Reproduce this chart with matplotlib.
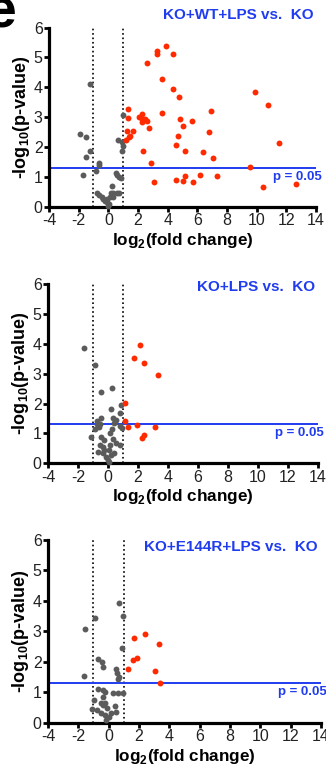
import matplotlib
matplotlib.use("Agg")
import matplotlib.pyplot as plt

plt.rcParams['font.family'] = ['Liberation Sans', 'DejaVu Sans']
plt.rcParams['mathtext.fontset'] = 'custom'
plt.rcParams['mathtext.rm'] = 'Liberation Sans'
plt.rcParams['mathtext.bf'] = 'Liberation Sans:bold'
plt.rcParams['axes.unicode_minus'] = False

# Panel 1: KO+WT+LPS vs. KO
wt_gray_x = [-1.26, -1.93, -1.48, -1.26, -1.48, -1.70, -0.62, -0.62, -0.80, 1.00, 0.68, 0.95,
             1.00, 0.93, 0.50, 0.59, 0.73, 0.84, 0.23, -0.78, -0.61, -0.44, -0.34, -0.11,
             0.07, 0.16, 0.34, 0.57, 0.74, 0.11, -0.07, 0.30, -0.20, 0.00]
wt_gray_y = [4.11, 2.45, 2.35, 1.88, 1.66, 1.06, 1.48, 1.41, 1.20, 3.07, 2.24, 2.18,
             2.02, 1.88, 1.12, 1.06, 1.00, 0.97, 0.69, 0.47, 0.39, 0.31, 0.25, 0.17,
             0.09, 0.45, 0.47, 0.45, 0.45, 0.34, 0.25, 0.31, 0.20, 0.03]
wt_red_x = [3.92, 3.27, 3.27, 4.35, 2.59, 3.61, 4.35, 4.78, 9.91, 10.78, 1.33, 6.89, 3.65, 2.30,
            1.33, 2.08, 2.25, 2.48, 2.25, 2.59, 4.84, 5.65, 5.05, 2.77, 6.82, 1.27, 1.67, 1.49,
            1.38, 1.20, 4.73, 4.53, 11.48, 2.37, 5.18, 6.37, 7.05, 2.91, 9.55, 6.15, 5.18, 7.34,
            4.53, 5.02, 3.09, 5.74, 10.40, 12.63]
wt_red_y = [5.40, 5.21, 5.12, 5.11, 4.80, 4.28, 3.96, 3.66, 3.83, 3.40, 3.27, 3.20, 3.13, 3.12,
            2.98, 2.99, 2.95, 2.93, 2.85, 2.86, 2.94, 2.88, 2.70, 2.64, 2.51, 2.55, 2.52, 2.38,
            2.35, 2.22, 2.37, 2.08, 2.15, 1.87, 1.88, 1.84, 1.62, 1.47, 1.34, 1.07, 1.04, 1.03,
            0.91, 0.86, 0.84, 0.84, 0.65, 0.77]

# Panel 2: KO+LPS vs. KO
lps_gray_x = [-1.59, -0.89, -0.46, 0.28, 0.21, 0.77, 0.89, 0.32, 0.55, -0.76, -0.46, -0.70, -0.58,
              -0.85, -1.14, 0.95, 0.77, 0.28, 0.14, -0.46, -0.24, 0.32, 0.55, 0.82, -0.52, 0.14,
              -0.69, -0.36, -0.13, 0.00, 0.21, 0.43, 0.10, -0.24, -0.55, 0.40, -0.30, 0.05]
lps_gray_y = [3.87, 3.29, 2.39, 2.51, 1.83, 1.69, 1.94, 1.51, 1.45, 1.43, 1.51, 1.33, 1.22,
              1.15, 0.89, 1.19, 1.25, 1.14, 1.00, 0.89, 0.78, 0.83, 0.67, 0.62, 0.62, 0.62,
              0.39, 0.33, 0.22, 0.11, 0.28, 0.33, 0.44, 0.44, 1.30, 1.35, 0.55, 0.05]
lps_red_x = [2.12, 1.76, 2.39, 3.31, 1.13, 1.13, 1.31, 1.96, 3.16, 2.37, 2.28]
lps_red_y = [3.97, 3.51, 3.35, 2.96, 2.02, 1.42, 1.22, 1.29, 1.20, 0.94, 0.85]

# Panel 3: KO+E144R+LPS vs. KO
e144_gray_x = [0.70, -0.90, 0.92, -1.58, 0.88, -0.70, -0.44, -0.40, -1.63, 0.51, 0.57, 0.66, 0.62,
               -0.70, -0.37, -0.26, 0.31, 0.62, 0.95, -0.97, -0.35, -0.22, -1.10, -0.75, -0.53,
               -0.40, -0.09, 0.40, 0.00, -0.15, 0.18, 0.51, -0.26, -0.48]
e144_gray_y = [3.94, 3.45, 3.50, 3.07, 2.45, 2.08, 2.00, 1.84, 1.54, 1.75, 1.64, 1.51, 1.45,
               1.11, 1.07, 1.02, 0.96, 0.99, 0.96, 0.74, 0.85, 0.64, 0.45, 0.42, 0.31,
               0.58, 0.47, 0.56, 0.20, 0.09, 0.31, 0.36, 0.25, 0.64]
e144_red_x = [2.42, 1.69, 3.34, 1.85, 1.58, 1.27, 3.08, 3.38]
e144_red_y = [2.90, 2.79, 2.58, 2.11, 2.06, 1.75, 1.70, 1.29]

titles = ["KO+WT+LPS vs.  KO", "KO+LPS vs.  KO", "KO+E144R+LPS vs.  KO"]
x_ticks = [-4, -2, 0, 2, 4, 6, 8, 10, 12, 14]
y_ticks = [0, 1, 2, 3, 4, 5, 6]
p_cut = 1.301

gray = "#5b5b5b"
red = "#ff2a00"
blue = "#1f3cf0"

fig = plt.figure(figsize=(3.26, 7.70), dpi=100)

panels = [
    (wt_gray_x, wt_gray_y, wt_red_x, wt_red_y),
    (lps_gray_x, lps_gray_y, lps_red_x, lps_red_y),
    (e144_gray_x, e144_gray_y, e144_red_x, e144_red_y),
]
boxes = [
    [0.1503, 0.7316, 0.819, 0.2325],
    [0.1472, 0.3983, 0.828, 0.2329],
    [0.1472, 0.0614, 0.837, 0.2373],
]
title_y = [1.071, 0.985, 0.963]

for i, (gx, gy, rx, ry) in enumerate(panels):
    ax = fig.add_axes(boxes[i])
    ax.plot([-1, -1], [0, 6], color="black", ls=":", lw=1.2, zorder=1)
    ax.plot([1, 1], [0, 6], color="black", ls=":", lw=1.2, zorder=1)
    ax.axhline(p_cut, color=blue, lw=1.4, zorder=2)
    ax.scatter(gx, gy, s=18, color=gray, zorder=3, clip_on=False, linewidths=0)
    ax.scatter(rx, ry, s=18, color=red, zorder=3, clip_on=False, linewidths=0)

    ax.set_xlim(-4, 14)
    ax.set_ylim(0, 6)
    ax.set_xticks(x_ticks)
    ax.set_yticks(y_ticks)
    for s in ["top", "right"]:
        ax.spines[s].set_visible(False)
    for s in ["left", "bottom"]:
        ax.spines[s].set_linewidth(2.3)
    ax.tick_params(width=2.0, length=3.5, labelsize=11.5, pad=1, colors="black")
    ax.tick_params(labelcolor="#222222")

    ax.set_ylabel(r"-log$_{\mathbf{10}}$(p-value)", fontsize=13, fontweight="bold", labelpad=1)
    ax.set_xlabel(r"log$_{\mathbf{2}}$(fold change)", fontsize=12.3, fontweight="bold", labelpad=2)

    ax.text(0.99, title_y[i], titles[i], transform=ax.transAxes, ha="right", va="center",
            color=blue, fontsize=11, fontweight="bold")
    ax.text(1.02, (p_cut - 0.3) / 6, "p = 0.05", transform=ax.transAxes, ha="right", va="center",
            color=blue, fontsize=9.5, fontweight="bold", clip_on=False)

fig.text(-14 / 326, (770 - 28) / 770, "e", fontsize=40, fontweight="bold", ha="left", va="baseline")

plt.savefig("out.png", dpi=100)
